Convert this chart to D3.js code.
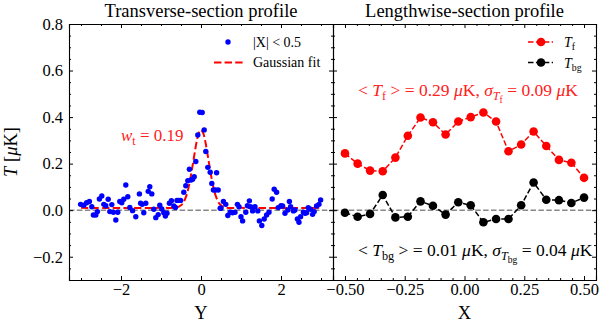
<!DOCTYPE html>
<html>
<head>
<meta charset="utf-8">
<script src="https://cdn.jsdelivr.net/npm/d3@7"></script>
<style>
  body { margin: 0; background: #fff; }
  svg { display: block; font-family: "Liberation Serif", "DejaVu Serif", serif; }
  svg text { font-family: "Liberation Serif", "DejaVu Serif", serif; }
</style>
</head>
<body>
<svg id="chart" width="600" height="326"></svg>
<script>
// Transverse-section profile: scatter of |X| < 0.5 points.
const transY = [-3.01, -2.93, -2.86, -2.79, -2.73, -2.69, -2.63, -2.59, -2.54, -2.48,
  -2.43, -2.38, -2.32, -2.28, -2.23, -2.19, -2.13, -2.08, -2.03, -1.98,
  -1.93, -1.88, -1.83, -1.78, -1.71, -1.63, -1.54, -1.51, -1.47, -1.43,
  -1.38, -1.32, -1.28, -1.23, -1.18, -1.13, -1.07, -1.03, -0.98, -0.93,
  -0.89, -0.85, -0.79, -0.74, -0.68, -0.64, -0.60, -0.56, -0.51, -0.43,
  -0.38, -0.33, -0.29, -0.25, -0.21, -0.17, -0.13, -0.08, -0.03, 0.03,
  0.08, 0.12, 0.17, 0.23, 0.27, 0.31, 0.36, 0.39, 0.43, 0.48,
  0.50, 0.56, 0.62, 0.67, 0.73, 0.79, 0.85, 0.91, 0.95, 1.00,
  1.04, 1.12, 1.16, 1.21, 1.24, 1.29, 1.35, 1.42, 1.46, 1.52,
  1.58, 1.64, 1.70, 1.78, 1.83, 1.89, 1.93, 2.00, 2.04, 2.10,
  2.17, 2.21, 2.24, 2.31, 2.35, 2.41, 2.45, 2.49, 2.56, 2.60,
  2.64, 2.68, 2.74, 2.79, 2.83, 2.89, 2.95, 2.99];
const transT = [0.025, 0.021, 0.032, 0.037, 0.015, -0.021, -0.021, -0.006, 0.048, 0.061,
  0.025, 0.019, 0.047, -0.006, 0.024, -0.009, -0.042, -0.009, 0.037, 0.032,
  0.047, 0.108, 0.058, 0.012, -0.002, -0.028, 0.070, 0.030, 0.025, -0.011,
  0.030, 0.081, 0.101, 0.070, 0.004, -0.032, -0.019, 0.021, 0.005, -0.011,
  -0.025, -0.013, 0.030, 0.041, 0.018, 0.012, 0.042, 0.042, 0.042, 0.077,
  0.105, 0.127, 0.176, 0.130, 0.133, 0.144, 0.209, 0.323, 0.421, 0.420,
  0.345, 0.252, 0.184, 0.163, 0.115, 0.087, 0.087, 0.161, 0.087, 0.008,
  0.008, 0.037, 0.025, -0.023, -0.009, -0.011, -0.009, 0.025, 0.015, -0.028,
  -0.046, -0.009, 0.019, 0.040, 0.015, -0.003, 0.015, -0.003, -0.046, -0.066,
  -0.038, -0.021, -0.009, 0.048, 0.090, 0.077, 0.011, 0.019, 0.018, -0.013,
  0.001, 0.037, 0.015, -0.003, 0.001, -0.038, -0.052, -0.028, -0.009, -0.013,
  -0.011, 0.011, 0.004, -0.018, -0.006, 0.018, 0.025, 0.044];

// Gaussian fit curve
const fitY = [-3.0, -1.0, -0.6, -0.5, -0.45, -0.4, -0.35, -0.3, -0.25, -0.2, -0.15, -0.1, -0.05, 0,
  0.05, 0.1, 0.15, 0.2, 0.25, 0.3, 0.35, 0.4, 0.45, 0.5, 0.6, 1.0, 3.0];
const fitT = [0.010, 0.010, 0.012, 0.021, 0.030, 0.047, 0.071, 0.106, 0.151, 0.202, 0.255, 0.302, 0.334, 0.345,
  0.334, 0.302, 0.255, 0.202, 0.151, 0.106, 0.071, 0.047, 0.030, 0.021, 0.012, 0.010, 0.010];

// Lengthwise-section profile
const lenX = [-0.5, -0.447, -0.395, -0.342, -0.289, -0.237, -0.184, -0.132, -0.079, -0.026,
  0.026, 0.079, 0.132, 0.184, 0.237, 0.289, 0.342, 0.395, 0.447, 0.5];
const lenTf = [0.244, 0.200, 0.170, 0.167, 0.226, 0.320, 0.398, 0.378, 0.325, 0.381,
  0.400, 0.420, 0.381, 0.253, 0.282, 0.338, 0.276, 0.216, 0.204, 0.139];
const lenTbg = [-0.011, -0.028, -0.016, 0.065, -0.031, -0.028, 0.038, 0.019, -0.019, 0.034,
  0.021, -0.052, -0.038, -0.038, 0.021, 0.119, 0.045, 0.043, 0.031, 0.054];

const yTicks = [-0.2, 0, 0.2, 0.4, 0.6, 0.8];
const leftXTicks = [-2, 0, 2];
const rightXTicks = [-0.5, -0.25, 0, 0.25, 0.5];

const svg = d3.select("#chart");
const plotTop = 24, plotBottom = 280;
const panels = [
  { x0: 69, x1: 333, domain: [-3.3, 3.3], ticks: leftXTicks, minor: 0.5, fmt: d3.format("d"),
    title: "Transverse-section profile", xlabel: "Y" },
  { x0: 333, x1: 596, domain: [-0.55, 0.55], ticks: rightXTicks, minor: 0.05, fmt: d3.format(".2f"),
    title: "Lengthwise-section profile", xlabel: "X" }
];
const y = d3.scaleLinear().domain([-0.3, 0.8]).range([plotBottom, plotTop]);
const yMinor = d3.range(-0.3, 0.8001, 0.05).map(v => +v.toFixed(2));

function minorVals(domain, step) {
  const start = Math.ceil(domain[0] / step) * step;
  return d3.range(start, domain[1] + 1e-9, step).map(v => +v.toFixed(3));
}

// math-ish text built from tspans: [text, italic, level]
function mathText(g, x, yy, size, color, anchor, parts) {
  const t = g.append("text").attr("x", x).attr("y", yy).attr("fill", color)
    .attr("font-size", size).attr("text-anchor", anchor);
  const off = [0, 0.22 * size, 0.38 * size];
  const scale = [1, 0.7, 0.55];
  let prev = 0;
  for (const [s, it, lvl] of parts) {
    t.append("tspan").attr("dy", off[lvl] - off[prev])
      .attr("font-size", size * scale[lvl])
      .attr("font-style", it ? "italic" : "normal")
      .text(s);
    prev = lvl;
  }
  return t;
}

panels.forEach((p, i) => {
  const x = d3.scaleLinear().domain(p.domain).range([p.x0, p.x1]);
  p.x = x;
  const g = svg.append("g");

  // zero line
  g.append("line").attr("x1", p.x0).attr("x2", p.x1).attr("y1", y(0)).attr("y2", y(0))
    .attr("stroke", "#888").attr("stroke-width", 1.5).attr("stroke-dasharray", "5.5,2.4");

  // axes with inward ticks
  const xm = minorVals(p.domain, p.minor).filter(v => !p.ticks.some(t => Math.abs(t - v) < 1e-6));
  const ym = yMinor.filter(v => !yTicks.some(t => Math.abs(t - v) < 1e-6));
  const mk = (axis, scale, vals, size, fmt) => axis(scale).tickValues(vals).tickSize(-size)
    .tickPadding(axis === d3.axisLeft ? 6 : 3.5).tickFormat(fmt || "");

  const addAxis = (axis, tr, scale, vals, mvals, fmt) => {
    const a = g.append("g").attr("transform", tr).call(mk(axis, scale, vals, 4, fmt));
    g.append("g").attr("transform", tr).call(mk(axis, scale, mvals, 2)).select(".domain").remove();
    a.selectAll("text").attr("font-size", 16.5).attr("fill", "#000");
    return a;
  };
  addAxis(d3.axisBottom, `translate(0,${plotBottom})`, x, p.ticks, xm, p.fmt);
  addAxis(d3.axisTop, `translate(0,${plotTop})`, x, p.ticks, xm);
  addAxis(d3.axisLeft, `translate(${p.x0},0)`, y, yTicks, ym, i === 0 ? d3.format(".1f") : null);
  addAxis(d3.axisRight, `translate(${p.x1},0)`, y, yTicks, ym);
  g.selectAll(".domain").attr("stroke", "#000").attr("stroke-width", 1.1);
  g.selectAll(".tick line").attr("stroke", "#000");

  // titles and labels
  const cx = (p.x0 + p.x1) / 2;
  g.append("text").attr("x", cx).attr("y", 17).attr("text-anchor", "middle")
    .attr("font-size", 18.5).text(p.title);
  g.append("text").attr("x", cx).attr("y", 319).attr("text-anchor", "middle")
    .attr("font-size", 18.5).text(p.xlabel);
});

// y label
mathText(svg.append("g").attr("transform", "translate(17,152) rotate(-90)"), 0, 0, 18.5, "#000", "middle",
  [["T", true, 0], [" [", false, 0], ["\u03bc", true, 0], ["K]", false, 0]]);

// ---- left panel marks
const L = panels[0];
const fitLine = d3.line().x((d, i) => L.x(fitY[i])).y(d => y(d)).curve(d3.curveCatmullRom);
svg.append("path").datum(fitT).attr("d", fitLine).attr("fill", "none")
  .attr("stroke", "#ff0000").attr("stroke-width", 2).attr("stroke-dasharray", "7.4,3.2");
svg.append("g").selectAll("circle").data(transT).join("circle")
  .attr("cx", (d, i) => L.x(transY[i])).attr("cy", d => y(d)).attr("r", 2.7).attr("fill", "#0000ff");

// legend left
const lg = svg.append("g");
lg.append("circle").attr("cx", 228).attr("cy", 42).attr("r", 2.7).attr("fill", "#0000ff");
lg.append("text").attr("x", 253).attr("y", 47).attr("font-size", 14).text("|X| < 0.5");
lg.append("line").attr("x1", 214).attr("x2", 243).attr("y1", 62.5).attr("y2", 62.5)
  .attr("stroke", "#ff0000").attr("stroke-width", 2).attr("stroke-dasharray", "7.4,3.2");
lg.append("text").attr("x", 253).attr("y", 67).attr("font-size", 14).text("Gaussian fit");

mathText(svg, 121, 141, 17, "#ff2020", "start", [["w", true, 0], ["t", false, 1], [" = 0.19", false, 0]]);

// ---- right panel marks
const R = panels[1];
const series = [
  { vals: lenTf, color: "#ff0000", label: "f" },
  { vals: lenTbg, color: "#000000", label: "bg" }
];
series.forEach((s, k) => {
  const line = d3.line().x((d, i) => R.x(lenX[i])).y(d => y(d));
  svg.append("path").datum(s.vals).attr("d", line).attr("fill", "none")
    .attr("stroke", s.color).attr("stroke-width", 1.5).attr("stroke-dasharray", "5.5,2.4");
  svg.append("g").selectAll("circle").data(s.vals).join("circle")
    .attr("cx", (d, i) => R.x(lenX[i])).attr("cy", d => y(d)).attr("r", 4.3).attr("fill", s.color);
  const ly = 42 + k * 20.5;
  svg.append("line").attr("x1", 528).attr("x2", 553).attr("y1", ly).attr("y2", ly)
    .attr("stroke", s.color).attr("stroke-width", 1.5).attr("stroke-dasharray", "5.5,2.4");
  svg.append("circle").attr("cx", 541).attr("cy", ly).attr("r", 4.3).attr("fill", s.color);
  mathText(svg, 564, ly + 5, 14, "#000", "start", [["T", true, 0], [s.label, false, 1]]);
});

mathText(svg, 358, 96, 17.5, "#ff2020", "start", [
  ["< ", false, 0], ["T", true, 0], ["f", false, 1], [" > = 0.29 ", false, 0], ["\u03bc", true, 0], ["K, ", false, 0],
  ["\u03c3", true, 0], ["T", true, 1], ["f", false, 2], [" = 0.09 ", false, 0], ["\u03bc", true, 0], ["K", false, 0]]);
mathText(svg, 358, 256, 17.5, "#000", "start", [
  ["< ", false, 0], ["T", true, 0], ["bg", false, 1], [" > = 0.01 ", false, 0], ["\u03bc", true, 0], ["K, ", false, 0],
  ["\u03c3", true, 0], ["T", true, 1], ["bg", false, 2], [" = 0.04 ", false, 0], ["\u03bc", true, 0], ["K", false, 0]]);
</script>
</body>
</html>
